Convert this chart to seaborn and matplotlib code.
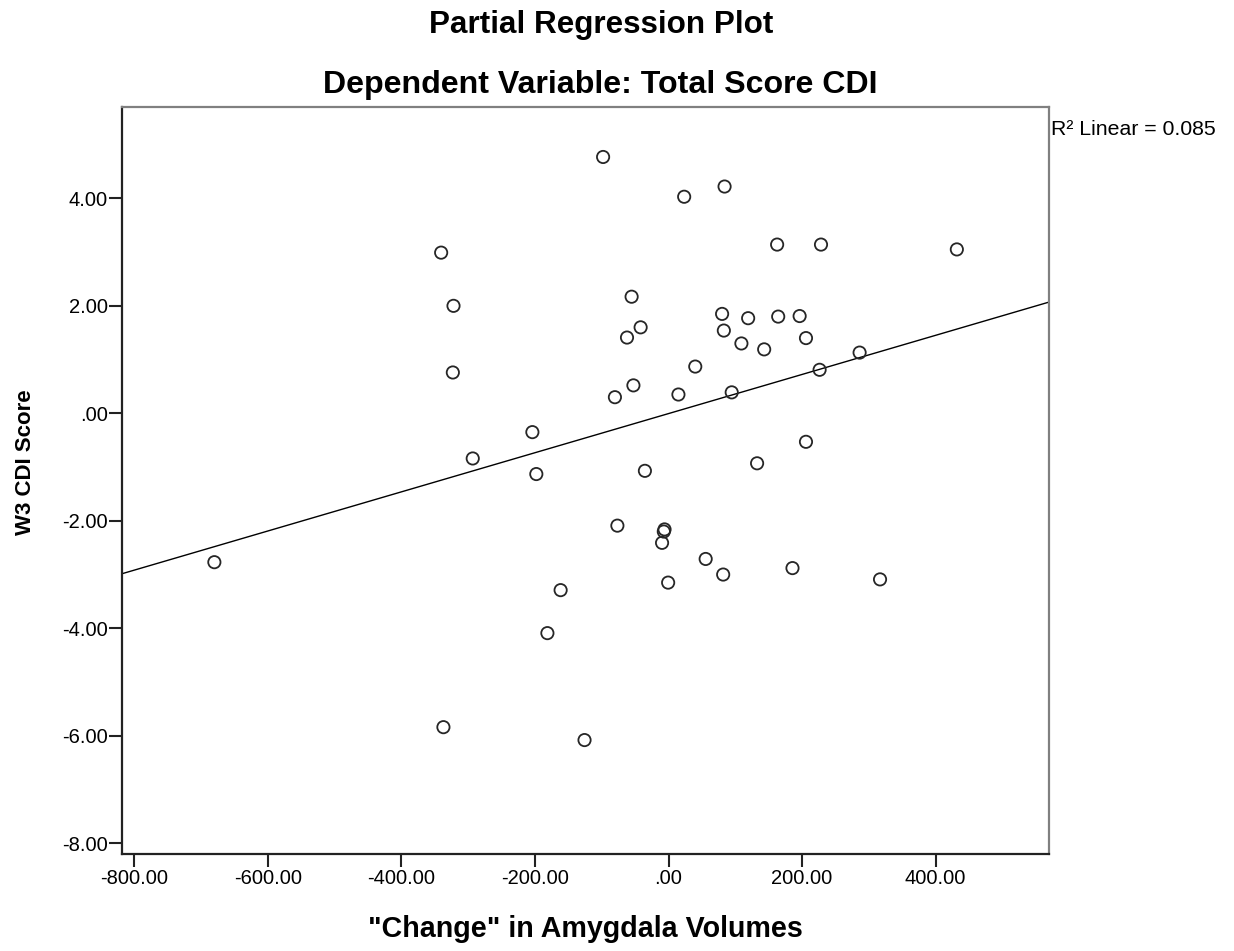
import matplotlib
matplotlib.use("Agg")
import matplotlib.pyplot as plt
import seaborn as sns
import pandas as pd

# ---- data ----
amygdala_change = [
    -98.0, 23.4, 83.9, 162.6, 228.3, 431.7, -340.5, -322.0, -55.3, 80.2,
    119.2, 164.2, 196.3, -41.8, -62.2, 82.8, 109.1, 143.2, 205.8, 286.1,
    -323.0, 40.0, 226.2, -52.6, -80.3, 14.8, 94.6, -203.9, -293.2, 205.8,
    -198.0, -35.4, 132.6, -76.6, -6.0, -7.1, -9.7, 55.6, 81.8, 185.6,
    316.7, -0.6, -161.6, -181.4, -337.1, -125.8, -680.1,
]
cdi_score = [
    4.77, 4.03, 4.22, 3.14, 3.14, 3.05, 2.99, 2.00, 2.17, 1.85,
    1.77, 1.80, 1.81, 1.60, 1.41, 1.54, 1.30, 1.19, 1.40, 1.13,
    0.76, 0.87, 0.81, 0.52, 0.30, 0.35, 0.39, -0.35, -0.84, -0.53,
    -1.13, -1.07, -0.93, -2.09, -2.16, -2.20, -2.41, -2.71, -3.00, -2.88,
    -3.09, -3.15, -3.29, -4.09, -5.84, -6.08, -2.77,
]
x_ticks = [-800, -600, -400, -200, 0, 200, 400]
y_ticks = [-8, -6, -4, -2, 0, 2, 4]
title_1 = "Partial Regression Plot"
title_2 = "Dependent Variable: Total Score CDI"
x_label = '"Change" in Amygdala Volumes'
y_label = "W3 CDI Score"
r2_text = "R\u00b2 Linear = 0.085"

df = pd.DataFrame({"x": amygdala_change, "y": cdi_score})

sns.set_style("white")
plt.rcParams["font.family"] = ["Liberation Sans", "DejaVu Sans"]
plt.rcParams["text.color"] = "black"
plt.rcParams["xtick.labelcolor"] = "black"
plt.rcParams["ytick.labelcolor"] = "black"

fig = plt.figure(figsize=(12.34, 9.51), dpi=100)
ax = fig.add_axes([122 / 1234, 97 / 951, 927 / 1234, 747 / 951])

ax.set_xlim(-818.4, 569.7)
ax.set_ylim(-8.2, 5.7)

sns.scatterplot(data=df, x="x", y="y", ax=ax, marker="o", s=78,
                facecolors="none", edgecolor="#262626", linewidth=1.3,
                zorder=3)
sns.regplot(data=df, x="x", y="y", ax=ax, scatter=False, ci=None,
            truncate=False, line_kws={"color": "black", "linewidth": 1.0})

ax.set_xlim(-818.4, 569.7)
ax.set_ylim(-8.2, 5.7)

def fmt(v):
    return ".00" if v == 0 else f"{v:.2f}"

ax.set_xticks(x_ticks)
ax.set_xticklabels([fmt(v) for v in x_ticks])
ax.set_yticks(y_ticks)
ax.set_yticklabels([fmt(v) for v in y_ticks])
ax.set_xlabel("")
ax.set_ylabel("")

ax.tick_params(axis="x", direction="out", length=9.5, width=1.5,
               color="#222222", labelsize=14.5, pad=1.5, bottom=True,
               labelcolor="black")
ax.tick_params(axis="y", direction="out", length=9.5, width=1.5,
               color="#222222", labelsize=14.5, pad=0.7, left=True,
               labelcolor="black")

for side in ["left", "bottom"]:
    ax.spines[side].set_color("#222222")
    ax.spines[side].set_linewidth(1.6)
for side in ["top", "right"]:
    ax.spines[side].set_color("#808080")
    ax.spines[side].set_linewidth(1.6)

fig.text(601 / 1234, 1 - 33 / 951, title_1, ha="center", va="baseline",
         fontsize=22.6, fontweight="bold", color="black")
fig.text(600 / 1234, 1 - 93 / 951, title_2, ha="center", va="baseline",
         fontsize=23.1, fontweight="bold", color="black")
fig.text(585 / 1234, 1 - 937 / 951, x_label, ha="center", va="baseline",
         fontsize=20.6, fontweight="bold", color="black")
fig.text(26 / 1234, 1 - 462 / 951, y_label, ha="center", va="center",
         rotation=90, fontsize=16, fontweight="bold", color="black")
fig.text(1051 / 1234, 1 - 135 / 951, r2_text, ha="left", va="baseline",
         fontsize=15.3, color="black")

fig.savefig("out.png", dpi=100)
